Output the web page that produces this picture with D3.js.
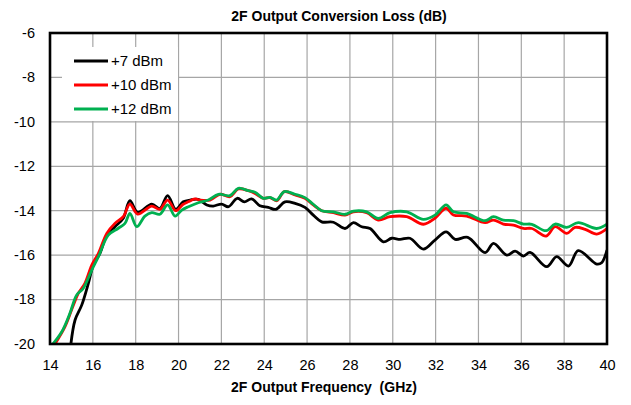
<!DOCTYPE html>
<html>
<head>
<meta charset="utf-8">
<script src="https://cdnjs.cloudflare.com/ajax/libs/d3/7.8.5/d3.min.js"></script>
<style>
  html, body { margin: 0; padding: 0; background: #fff; }
  svg text { font-family: "Liberation Sans", "DejaVu Sans", sans-serif; }
</style>
</head>
<body>
<div id="chart"></div>
<script>
// frequency (GHz) / conversion loss (dB)
var freq7 = [14.95, 15.17, 15.48, 15.79, 16.02, 16.33, 16.65, 17.03, 17.42, 17.73, 18.09, 18.75, 19.13, 19.49, 19.87,
             20.22, 20.54, 20.92, 21.32, 21.62, 22.01, 22.33, 22.74, 23.07, 23.41, 23.8, 24.19, 24.54, 24.97, 25.44,
             25.9, 26.29, 26.68, 27.23, 27.77, 28.16, 28.55, 28.94, 29.56, 29.95, 30.34, 30.8, 31.43, 31.97, 32.49,
             32.91, 33.5, 34.31, 34.7, 35.32, 35.71, 36.1, 36.41, 37.19, 37.65, 38.2, 38.66, 39.52, 39.75, 40];
var loss7 = [-20.2, -18.92, -18.25, -17.27, -16.45, -15.92, -15.1, -14.72, -14.34, -13.55, -14.07, -13.7, -13.9, -13.32, -13.94,
             -13.6, -13.52, -13.49, -13.74, -13.79, -13.7, -13.82, -13.44, -13.6, -13.47, -13.78, -13.85, -13.94, -13.6, -13.67,
             -13.85, -14.2, -14.5, -14.52, -14.8, -14.54, -14.72, -14.8, -15.4, -15.24, -15.29, -15.24, -15.73, -15.32, -14.95,
             -15.29, -15.2, -15.89, -15.47, -16.0, -15.82, -16.04, -15.88, -16.52, -16.07, -16.49, -15.8, -16.4, -16.34, -15.77];

var freq10 = [14.2, 14.7, 15.09, 15.32, 15.63, 15.95, 16.26, 16.65, 17.03, 17.42, 17.73, 18.09, 18.75, 19.13, 19.49,
              19.87, 20.2, 20.45, 20.77, 21.0, 21.47, 21.94, 22.4, 22.79, 23.26, 23.57, 23.96, 24.27, 24.58, 24.94,
              25.44, 25.9, 26.29, 26.68, 27.23, 27.77, 28.16, 28.78, 29.32, 29.87, 30.65, 31.43, 31.97, 32.49, 32.83,
              33.45, 34.31, 34.7, 35.16, 35.63, 36.1, 36.49, 37.16, 37.58, 38.12, 38.51, 38.98, 39.52, 40];
var loss10 = [-20.05, -19.22, -18.25, -17.72, -17.27, -16.45, -15.92, -15.02, -14.57, -14.27, -13.7, -14.15, -13.79, -13.94, -13.52,
              -14.0, -13.72, -13.6, -13.47, -13.52, -13.52, -13.26, -13.37, -13.02, -13.1, -13.22, -13.44, -13.41, -13.55, -13.14,
              -13.29, -13.44, -13.74, -14.0, -14.09, -14.2, -14.05, -14.09, -14.42, -14.27, -14.27, -14.61, -14.34, -13.89, -14.19,
              -14.24, -14.54, -14.42, -14.6, -14.65, -14.8, -14.8, -15.14, -14.72, -15.02, -14.75, -14.84, -15.05, -14.8];

var freq12 = [14.05, 14.55, 14.93, 15.24, 15.55, 15.95, 16.26, 16.72, 17.19, 17.5, 17.73, 18.05, 18.43, 18.75, 19.13,
              19.49, 19.84, 20.15, 20.46, 20.92, 21.39, 21.86, 22.4, 22.79, 23.26, 23.57, 23.96, 24.27, 24.58, 24.94,
              25.44, 25.9, 26.29, 26.68, 27.23, 27.77, 28.16, 28.78, 29.32, 29.87, 30.65, 31.43, 31.97, 32.49, 32.83,
              33.45, 34.31, 34.7, 35.16, 35.63, 36.1, 36.49, 37.16, 37.58, 38.12, 38.66, 39.52, 40];
var loss12 = [-20.1, -19.45, -18.62, -17.8, -17.5, -16.67, -16.07, -15.1, -14.79, -14.57, -14.12, -14.72, -14.24, -14.09, -14.16,
              -13.74, -14.24, -13.97, -13.82, -13.64, -13.52, -13.26, -13.32, -12.99, -13.1, -13.17, -13.44, -13.4, -13.52, -13.14,
              -13.26, -13.41, -13.71, -14.0, -14.05, -14.16, -14.02, -14.05, -14.35, -14.09, -14.05, -14.39, -14.2, -13.74, -14.05,
              -14.12, -14.45, -14.27, -14.42, -14.45, -14.6, -14.61, -14.9, -14.6, -14.75, -14.54, -14.8, -14.6];

var seriesNames = ["+7 dBm", "+10 dBm", "+12 dBm"];
var seriesColors = ["#000000", "#ff0000", "#00b050"];
var xTicks = [14, 16, 18, 20, 22, 24, 26, 28, 30, 32, 34, 36, 38, 40];
var yTicks = [-6, -8, -10, -12, -14, -16, -18, -20];

var W = 631, H = 405;
var margin = { top: 33, right: 24, bottom: 61, left: 50 };
var iw = W - margin.left - margin.right,
    ih = H - margin.top - margin.bottom;

var svg = d3.select("#chart").append("svg")
    .attr("width", W)
    .attr("height", H);

var x = d3.scaleLinear().domain([14, 40]).range([0, iw]);
var y = d3.scaleLinear().domain([-20, -6]).range([ih, 0]);

var g = svg.append("g").attr("transform", "translate(" + margin.left + "," + margin.top + ")");

// gridlines
g.append("g")
    .selectAll("line.vx")
    .data(xTicks)
    .enter().append("line")
    .attr("x1", function (d) { return x(d); })
    .attr("x2", function (d) { return x(d); })
    .attr("y1", 0).attr("y2", ih)
    .attr("stroke", "#a6a6a6").attr("stroke-width", 1.2);
g.append("g")
    .selectAll("line.hy")
    .data(yTicks)
    .enter().append("line")
    .attr("y1", function (d) { return y(d); })
    .attr("y2", function (d) { return y(d); })
    .attr("x1", 0).attr("x2", iw)
    .attr("stroke", "#a6a6a6").attr("stroke-width", 1.2);

// tick labels
var xAxis = d3.axisBottom(x).tickValues(xTicks).tickSize(0).tickPadding(16).tickFormat(d3.format("d"));
var yAxis = d3.axisLeft(y).tickValues(yTicks).tickSize(0).tickPadding(15).tickFormat(function (d) { return d; });

var gx = g.append("g").attr("transform", "translate(0," + ih + ")").call(xAxis);
var gy = g.append("g").call(yAxis);
[gx, gy].forEach(function (a) {
    a.select(".domain").remove();
    a.selectAll("text").attr("font-size", "14.5px").attr("fill", "#000")
        .style("font-family", "'Liberation Sans', sans-serif");
});
gy.selectAll("text").attr("dy", "0.3em");

svg.append("clipPath").attr("id", "clip")
    .append("rect").attr("width", iw).attr("height", ih);

var line = d3.line()
    .x(function (d) { return x(d[0]); })
    .y(function (d) { return y(d[1]); })
    .curve(d3.curveCatmullRom.alpha(0.5));

var series = [d3.zip(freq7, loss7), d3.zip(freq10, loss10), d3.zip(freq12, loss12)];

series.forEach(function (s, i) {
    g.append("path")
        .datum(s)
        .attr("clip-path", "url(#clip)")
        .attr("fill", "none")
        .attr("stroke", seriesColors[i])
        .attr("stroke-width", 2.8)
        .attr("stroke-linejoin", "round")
        .attr("d", line);
});

// legend
var leg = g.append("g").attr("transform", "translate(12,14)");
leg.append("rect").attr("width", 116).attr("height", 74).attr("fill", "#fff");
seriesNames.forEach(function (name, i) {
    var row = leg.append("g").attr("transform", "translate(0," + (14 + i * 24) + ")");
    row.append("line").attr("x1", 12).attr("x2", 46)
        .attr("stroke", seriesColors[i]).attr("stroke-width", 2.8);
    row.append("text").attr("x", 49).attr("dy", "0.35em")
        .attr("font-size", "15px").text(name);
});

// plot frame
g.append("rect").attr("width", iw).attr("height", ih)
    .attr("fill", "none").attr("stroke", "#000").attr("stroke-width", 2.6);

// titles
svg.append("text").attr("x", 339).attr("y", 21)
    .attr("text-anchor", "middle").attr("font-size", "14px").attr("font-weight", "bold")
    .text("2F Output Conversion Loss (dB)");
svg.append("text").attr("x", 324).attr("y", 392)
    .attr("text-anchor", "middle").attr("font-size", "14px").attr("font-weight", "bold")
    .attr("xml:space", "preserve")
    .text("2F Output Frequency  (GHz)");
</script>
</body>
</html>
